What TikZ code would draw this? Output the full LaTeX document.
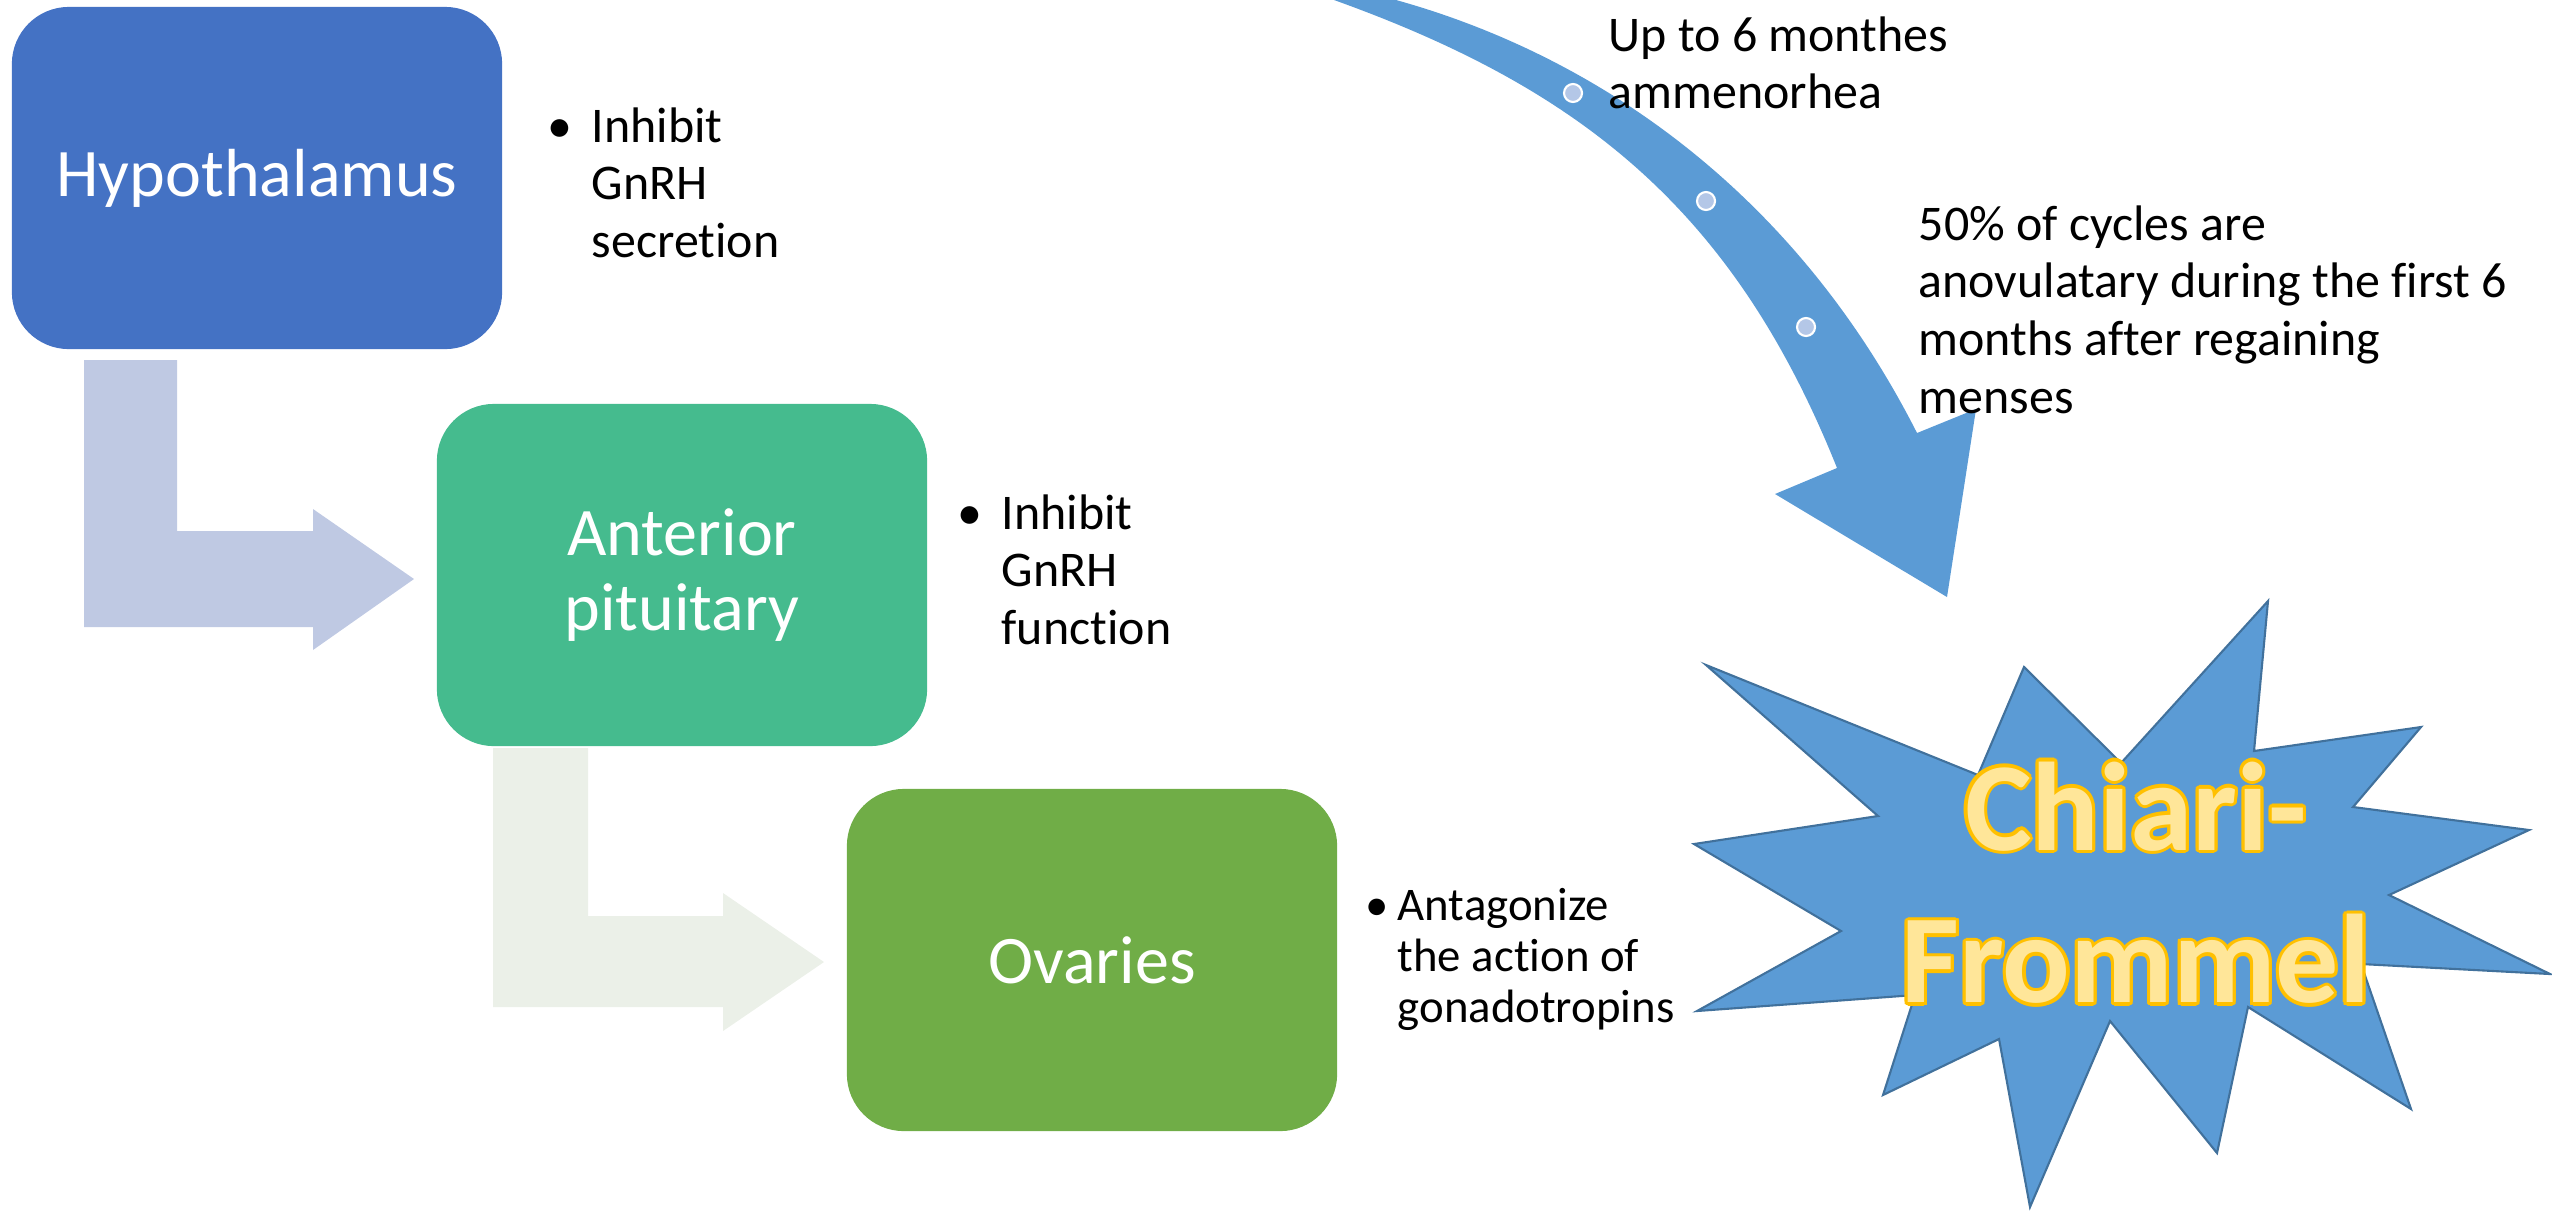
\documentclass[tikz,border=0pt]{standalone}
\usepackage{fontspec}
\setmainfont[Ligatures=NoCommon]{Carlito}
\usepackage{contour}
\contourlength{0.9pt}

\definecolor{hypoblue}{HTML}{4472C4}
\definecolor{pitgreen}{HTML}{45BB8E}
\definecolor{ovagreen}{HTML}{70AD47}
\definecolor{steplilac}{HTML}{BFC9E3}
\definecolor{stepgrey}{HTML}{EBF0E8}
\definecolor{arcblue}{HTML}{5B9BD5}
\definecolor{starline}{HTML}{41719C}
\definecolor{pinblue}{HTML}{B4C7E7}
\definecolor{chiarifill}{HTML}{FFE699}
\definecolor{chiarigold}{HTML}{FFC000}

\begin{document}
\begin{tikzpicture}[x=0.01cm, y=-0.01cm,
    organ/.style={rectangle, rounded corners=0.57cm, inner sep=0pt,
      minimum width=4.9cm, minimum height=3.42cm, text=white, align=center,
      font=\fontsize{19.35}{21.3}\selectfont},
    note/.style={anchor=base west, inner sep=0pt, font=\fontsize{14.2}{16.4}\selectfont},
    pin/.style={circle, fill=pinblue, draw=white, line width=0.6pt,
      minimum size=0.18cm, inner sep=0pt}]
    \useasboundingbox (0,0) rectangle (2552,1211);

    % step arrows behind the boxes
    \fill[steplilac] (84,360) -- (177,360) -- (177,531) -- (313,531) -- (313,509)
        -- (414,579) -- (313,650) -- (313,627) -- (84,627) -- cycle;
    \fill[stepgrey] (493,748) -- (588,748) -- (588,916) -- (723,916) -- (723,893)
        -- (824,962) -- (723,1031) -- (723,1007) -- (493,1007) -- cycle;

    \node[organ, fill=hypoblue] (hypo) at (257,178) {Hypothalamus};
    \node[organ, fill=pitgreen] (pit) at (682,575) {Anterior\\pituitary};
    \node[organ, fill=ovagreen] (ova) at (1092,960) {Ovaries};

    \node[note] (hyponote) at (547,142) {\begin{tabular}[t]{@{}p{0.44cm}@{}l@{}}\textbullet & Inhibit\\ & GnRH\\ & secretion\end{tabular}};
    \node[note] (pitnote) at (957,529) {\begin{tabular}[t]{@{}p{0.44cm}@{}l@{}}\textbullet & Inhibit\\ & GnRH\\ & function\end{tabular}};
    \node[note, font=\fontsize{13.3}{14.5}\selectfont] (ovanote) at (1365,920) {\begin{tabular}[t]{@{}p{0.32cm}@{}l@{}}\textbullet & Antagonize\\ & the action of\\ & gonadotropins\end{tabular}};

    % curved arrow
    \fill[arcblue] (1396,0) .. controls (1608,59) and (1800,202) .. (1917,433)
        -- (1976,409) -- (1947,597) -- (1775,494) -- (1837,468)
        .. controls (1733,208) and (1579,88) .. (1334,0) -- cycle;
    \node[pin] (pin1) at (1573,93) {};
    \node[pin] (pin2) at (1706,201) {};
    \node[pin] (pin3) at (1806,327) {};

    \node[note] (arcnote1) at (1608,51) {\begin{tabular}[t]{@{}l@{}}Up to 6 monthes\\ammenorhea\end{tabular}};
    \node[note] (arcnote2) at (1918,240) {\begin{tabular}[t]{@{}l@{}}50\% of cycles are\\anovulatary during the first 6\\months after regaining\\menses\end{tabular}};

    % starburst
    \filldraw[fill=arcblue, draw=starline, line width=0.6pt, line join=miter]
        (2268,601) -- (2254,751) -- (2421,727) -- (2353,807) -- (2529,830) -- (2389,895)
        -- (2550,974) -- (2361,964) -- (2411,1109) -- (2248,1007) -- (2217,1153) -- (2110,1021)
        -- (2030,1207) -- (1999,1039) -- (1883,1095) -- (1915,995) -- (1697,1011) -- (1841,931)
        -- (1694,844) -- (1878,816) -- (1706,665) -- (1978,775) -- (2024,667) -- (2121,763) -- cycle;
    \node[anchor=base, inner sep=0pt, font=\fontsize{35.85}{43.5}\selectfont\bfseries] (chiari) at (2136,850)
        {\begin{tabular}[t]{@{}c@{}}\textcolor{chiarifill}{\contour{chiarigold}{Chiari-}}\\ \textcolor{chiarifill}{\contour{chiarigold}{Frommel}}\end{tabular}};
\end{tikzpicture}
\end{document}
